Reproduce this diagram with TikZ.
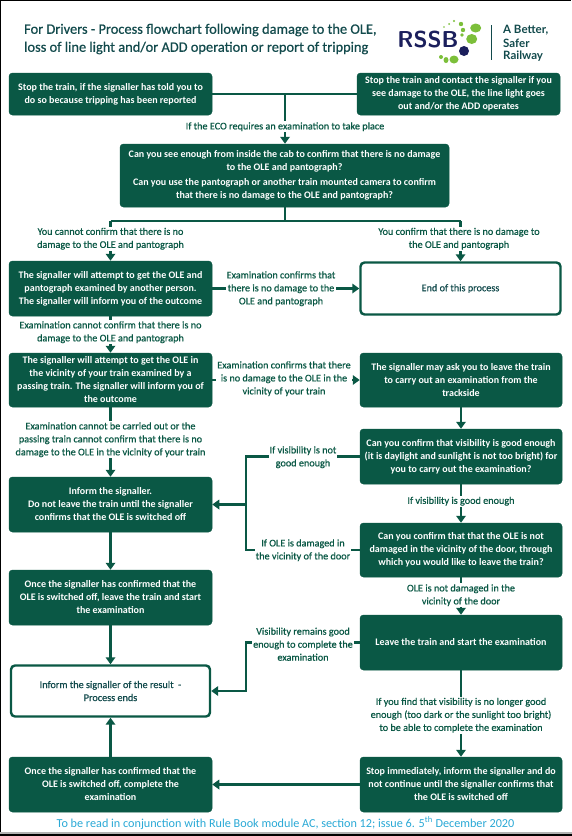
\documentclass[tikz,border=0pt]{standalone}
\usepackage{fontspec}
\setmainfont{Carlito}
\newfontfamily\logofont{Lato}
\newfontfamily\medfont[FakeBold=0.6]{Carlito}
\usetikzlibrary{arrows.meta}
\definecolor{rgreen}{HTML}{0A5845}
\definecolor{rtitle}{HTML}{124A4C}
\definecolor{rcyan}{HTML}{2AA9D6}
\definecolor{rnavy}{HTML}{1B1F5C}
\definecolor{rlime}{HTML}{7CBF3A}
\tikzset{
  x=1pt,y=-1pt,
  solidbox/.style={fill=rgreen,draw=rgreen,rounded corners=3.5pt,text=white,font=\fontsize{10}{13}\selectfont\bfseries,align=center,inner sep=0pt,line width=0.5pt},
  hollowbox/.style={fill=white,draw=rgreen,rounded corners=4pt,text=rtitle,font=\fontsize{10.2}{13}\selectfont\medfont,align=center,inner sep=0pt,line width=2.4pt},
  lbl/.style={fill=white,text=rgreen,font=\fontsize{10.2}{13}\selectfont\medfont,align=center,inner sep=1pt,yshift=-0.7pt},
  titletext/.style={anchor=west,inner sep=0pt,text=rtitle,font=\fontsize{14.4}{18}\selectfont\medfont},
  logotext/.style={anchor=west,inner sep=0pt,text=rtitle,font=\fontsize{11.5}{13.5}\selectfont\logofont\bfseries},
  conn/.style={draw=rgreen,line width=2.6pt},
  arr/.style={conn,-{Triangle[length=7pt,width=9.5pt]}},
}
\begin{document}
\begin{tikzpicture}
\useasboundingbox (0,0) rectangle (572,836);
\fill[white] (0,0) rectangle (572,836);
\draw[black,line width=1.2pt] (0.6,0.6) -- (571.4,0.6);
\draw[black,line width=1.2pt] (0.6,0) -- (0.6,836);
\fill[gray!60] (0,832) rectangle (572,834);
\fill[black] (0,834) rectangle (572,836);
% title
\node[titletext] (t1) at (24,30) {For Drivers - Process flowchart following damage to the OLE,};
\node[titletext] (t2) at (24,48) {loss of line light and/or ADD operation or report of tripping};
% logo
\node[inner sep=0pt,text=rnavy,font=\fontsize{23}{23}\selectfont\sffamily\bfseries] (rssb) at (428,39.5) {RSSB};
\fill[rlime] (475.7,28) ellipse (5.5 and 4.5) (471.7,39) ellipse (5.5 and 5) (454,59.5) ellipse (4.5 and 4) (446,60) ellipse (2.5 and 3) (441,57) circle (2);
\fill[rnavy] (464,51) circle (5);
\fill[rlime] (461,24) circle (2.2) (463,30) circle (2.2) (462,35) circle (1.8) (454,21) circle (1.2) (449,24) circle (1) (444,27) circle (.8);
\draw[rtitle,line width=0.8pt] (491.5,25) -- (491.5,60);
\node[logotext] (l1) at (503,30) {A Better,};
\node[logotext] (l2) at (503,43) {Safer};
\node[logotext] (l3) at (503,56) {Railway};
% boxes
\node[solidbox,minimum width=203pt,minimum height=42pt] (b1) at (110.5,94) {Stop the train, if the signaller has told you to\\do so because tripping has been reported};
\node[solidbox,minimum width=203pt,minimum height=42pt] (b2) at (458.5,94) {Stop the train and contact the signaller if you\\see damage to the OLE, the line light goes\\out and/or the ADD operates};
\node[solidbox,minimum width=329pt,minimum height=63pt] (b3) at (284.5,175.5) {Can you see enough from inside the cab to confirm that there is no damage\\to the OLE and pantograph?\\[1.5pt]Can you use the pantograph or another train mounted camera to confirm\\that there is no damage to the OLE and pantograph?};
\node[solidbox,minimum width=203pt,minimum height=55pt] (b4) at (110.5,288.5) {The signaller will attempt to get the OLE and\\pantograph examined by another person.\\The signaller will inform you of the outcome};
\node[hollowbox,minimum width=200pt,minimum height=52pt] (end) at (460.5,288.5) {End of this process};
\node[solidbox,minimum width=203pt,minimum height=54pt] (b5) at (110.5,380) {The signaller will attempt to get the OLE in\\the vicinity of your train examined by a\\passing train. The signaller will inform you of\\the outcome};
\node[solidbox,minimum width=202pt,minimum height=54pt] (b6) at (461,380) {The signaller may ask you to leave the train\\to carry out an examination from the\\trackside};
\node[solidbox,minimum width=202pt,minimum height=55pt] (b7) at (461,456.5) {Can you confirm that visibility is good enough\\(it is daylight and sunlight is not too bright) for\\you to carry out the examination?};
\node[solidbox,minimum width=203pt,minimum height=55pt] (b8) at (110.5,504.5) {Inform the signaller.\\Do not leave the train until the signaller\\confirms that the OLE is switched off};
\node[solidbox,minimum width=202pt,minimum height=54pt] (b9) at (461,550) {Can you confirm that that the OLE is not\\damaged in the vicinity of the door, through\\which you would like to leave the train?};
\node[solidbox,minimum width=203pt,minimum height=55pt] (b10) at (110.5,597.5) {Once the signaller has confirmed that the\\OLE is switched off, leave the train and start\\the examination};
\node[solidbox,minimum width=202pt,minimum height=55pt] (b11) at (461,642.5) {Leave the train and start the examination};
\node[hollowbox,minimum width=199pt,minimum height=51pt] (b12) at (110.5,691) {Inform the signaller of the result\ \ -\\Process ends};
\node[solidbox,minimum width=203pt,minimum height=55pt] (b13) at (110.5,784.5) {Once the signaller has confirmed that the\\OLE is switched off, complete the\\examination};
\node[solidbox,minimum width=202pt,minimum height=55pt] (b14) at (461,784.5) {Stop immediately, inform the signaller and do\\not continue until the signaller confirms that\\the OLE is switched off};
% junctions
\coordinate (j1) at (285,94);
\coordinate (j3) at (285,221);
\coordinate (jl) at (110.5,221);
\coordinate (jr) at (460.5,221);
\coordinate (v1) at (246,456.5);
\coordinate (v2) at (246,550);
\coordinate (v3) at (246,504.5);
\coordinate (v4) at (246,642.5);
\coordinate (v5) at (246,691);
% connectors
\draw[conn] (b1) -- (b2);
\draw[arr] (j1) -- (b3.north -| j1);
\draw[conn] (b3.south -| j3) -- (j3);
\draw[conn] (jl) -- (jr);
\draw[arr] (jl) -- (b4.north);
\draw[arr] (jr) -- (end.north);
\draw[arr] (b4.east) -- (end.west);
\draw[arr] (b4.south) -- (b5.north);
\draw[arr] (b5.east) -- (b6.west);
\draw[arr] (b5.south) -- (b8.north);
\draw[arr] (b6.south) -- (b7.north);
\draw[arr] (b7.south) -- (b9.north);
\draw[conn] (b7.west) -- (v1) -- (v2) -- (b9.west);
\draw[arr] (v3) -- (b8.east);
\draw[arr] (b9.south) -- (b11.north);
\draw[arr] (b8.south) -- (b10.north);
\draw[arr] (b10.south) -- (b12.north);
\draw[arr] (b11.west) -- (v4) -- (v5) -- (b12.east);
\draw[arr] (b11.south) -- (b14.north);
\draw[arr] (b14.west) -- (b13.east);
\draw[arr] (b13.north) -- (b12.south);
% labels
\node[lbl] (a1) at (285,126) {If the ECO requires an examination to take place};
\node[lbl] (a2) at (110.5,238) {You cannot confirm that there is no\\damage to the OLE and pantograph};
\node[lbl] (a3) at (459,238) {You confirm that there is no damage to\\the OLE and pantograph};
\node[lbl] (a4) at (281,288) {Examination confirms that\\there is no damage to the\\OLE and pantograph};
\node[lbl] (a5) at (110.5,331.5) {Examination cannot confirm that there is no\\damage to the OLE and pantograph};
\node[lbl] (a6) at (284,378) {Examination confirms that there\\is no damage to the OLE in the\\vicinity of your train};
\node[lbl] (a7) at (110.5,439) {Examination cannot be carried out or the\\passing train cannot confirm that there is no\\damage to the OLE in the vicinity of your train};
\node[lbl] (a8) at (303,456.5) {If visibility is not\\good enough};
\node[lbl] (a9) at (461,500.5) {If visibility is good enough};
\node[lbl] (a10) at (303,549.5) {If OLE is damaged in\\the vicinity of the door};
\node[lbl] (a11) at (461,594.5) {OLE is not damaged in the\\vicinity of the door};
\node[lbl] (a12) at (303,643.5) {Visibility remains good\\enough to complete the\\examination};
\node[lbl] (a13) at (461,714.5) {If you find that visibility is no longer good\\enough (too dark or the sunlight too bright)\\to be able to complete the examination};
% footer
\node[inner sep=0pt,text=rcyan,font=\fontsize{12.2}{14}\selectfont] (foot) at (285.5,823) {To be read in conjunction with Rule Book module AC, section 12; issue 6. 5\textsuperscript{th} December 2020};
\end{tikzpicture}
\end{document}
